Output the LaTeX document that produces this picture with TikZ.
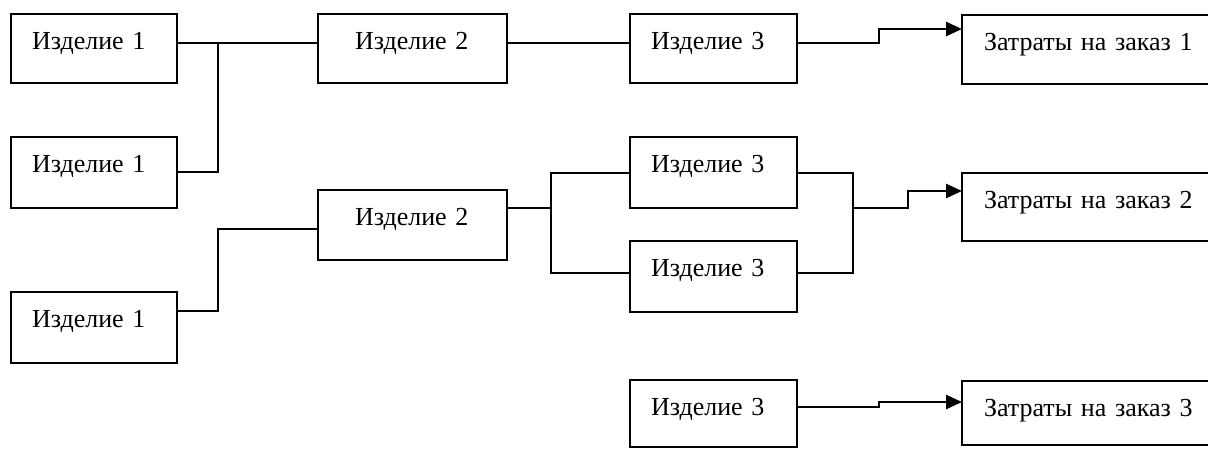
\documentclass[tikz,border=0pt]{standalone}
\usepackage{fontspec}
\setmainfont{Liberation Serif}
\usetikzlibrary{arrows.meta}
\newcommand\partfont{\fontsize{26}{30}\selectfont}
\begin{document}
\begin{tikzpicture}[x=1pt,y=-1pt,
  part/.style={draw, line width=2pt, inner sep=0pt, outer sep=0pt,
    anchor=north west, align=left, text height=35pt, font=\partfont},
  % width, depth below baseline, left indent of the caption
  dims/.style n args={3}{text width=#1pt, text depth=#2pt,
    execute at begin node={\hspace*{#3pt}}},
  link/.style={line width=2pt},
  feed/.style={line width=2.6pt, -{Triangle[length=16pt,width=14pt]}}]
\useasboundingbox (0,0) rectangle (1208,448);
\clip (0,0) rectangle (1208,448);

% first column
\node[part, dims={166.5}{34}{21.5}] (i1a) at (10.5,14)  {Изделие 1};
\node[part, dims={166.5}{36}{21.5}] (i1b) at (10.5,137) {Изделие 1};
\node[part, dims={166.5}{36}{21.5}] (i1c) at (10.5,292) {Изделие 1};

% second column
\node[part, dims={189}{34}{37}] (i2a) at (318,14)  {Изделие 2};
\node[part, dims={189}{35}{37}] (i2b) at (318,190) {Изделие 2};

% third column
\node[part, dims={167}{34}{21}] (i3a)  at (630,14)  {Изделие 3};
\node[part, dims={167}{36}{21}] (i3b1) at (630,137) {Изделие 3};
\node[part, dims={167}{36}{21}] (i3b2) at (630,241) {Изделие 3};
\node[part, dims={167}{32}{21}] (i3c)  at (630,380) {Изделие 3};

% order costs
\node[part, dims={300}{34}{22}] (z1) at (962,15)  {Затраты на заказ 1};
\node[part, dims={300}{33}{22}] (z2) at (962,173) {Затраты на заказ 2};
\node[part, dims={300}{29}{22}] (z3) at (962,381) {Затраты на заказ 3};

% order 1
\draw[link] ([yshift=-29pt]i1a.north east) -- ([yshift=-29pt]i2a.north west);
\coordinate (j1) at ([xshift=41pt,yshift=-29pt]i1a.north east);
\draw[link] ([yshift=-35pt]i1b.north east) -| (j1);
\draw[link] ([yshift=-29pt]i2a.north east) -- ([yshift=-29pt]i3a.north west);
\draw[feed] ([yshift=-29pt]i3a.north east) -- ++(82,0) |- ([yshift=-14pt]z1.north west);

% order 2
\draw[link] ([yshift=-19pt]i1c.north east) -- ++(41,0) |- ([yshift=-39pt]i2b.north west);
\draw[link] ([yshift=-18pt]i2b.north east) -- ++(44,0) coordinate (s1);
\draw[link] (s1) |- ([yshift=-36pt]i3b1.north west);
\draw[link] (s1) |- ([yshift=-32pt]i3b2.north west);
\coordinate (m1) at ([xshift=56pt,yshift=-71pt]i3b1.north east);
\draw[link] ([yshift=-36pt]i3b1.north east) -| (m1);
\draw[link] ([yshift=-32pt]i3b2.north east) -| (m1);
\draw[feed] (m1) -- ++(55,0) |- ([yshift=-18pt]z2.north west);

% order 3
\draw[feed] ([yshift=-27pt]i3c.north east) -- ++(82,0) |- ([yshift=-21pt]z3.north west);
\end{tikzpicture}
\end{document}
